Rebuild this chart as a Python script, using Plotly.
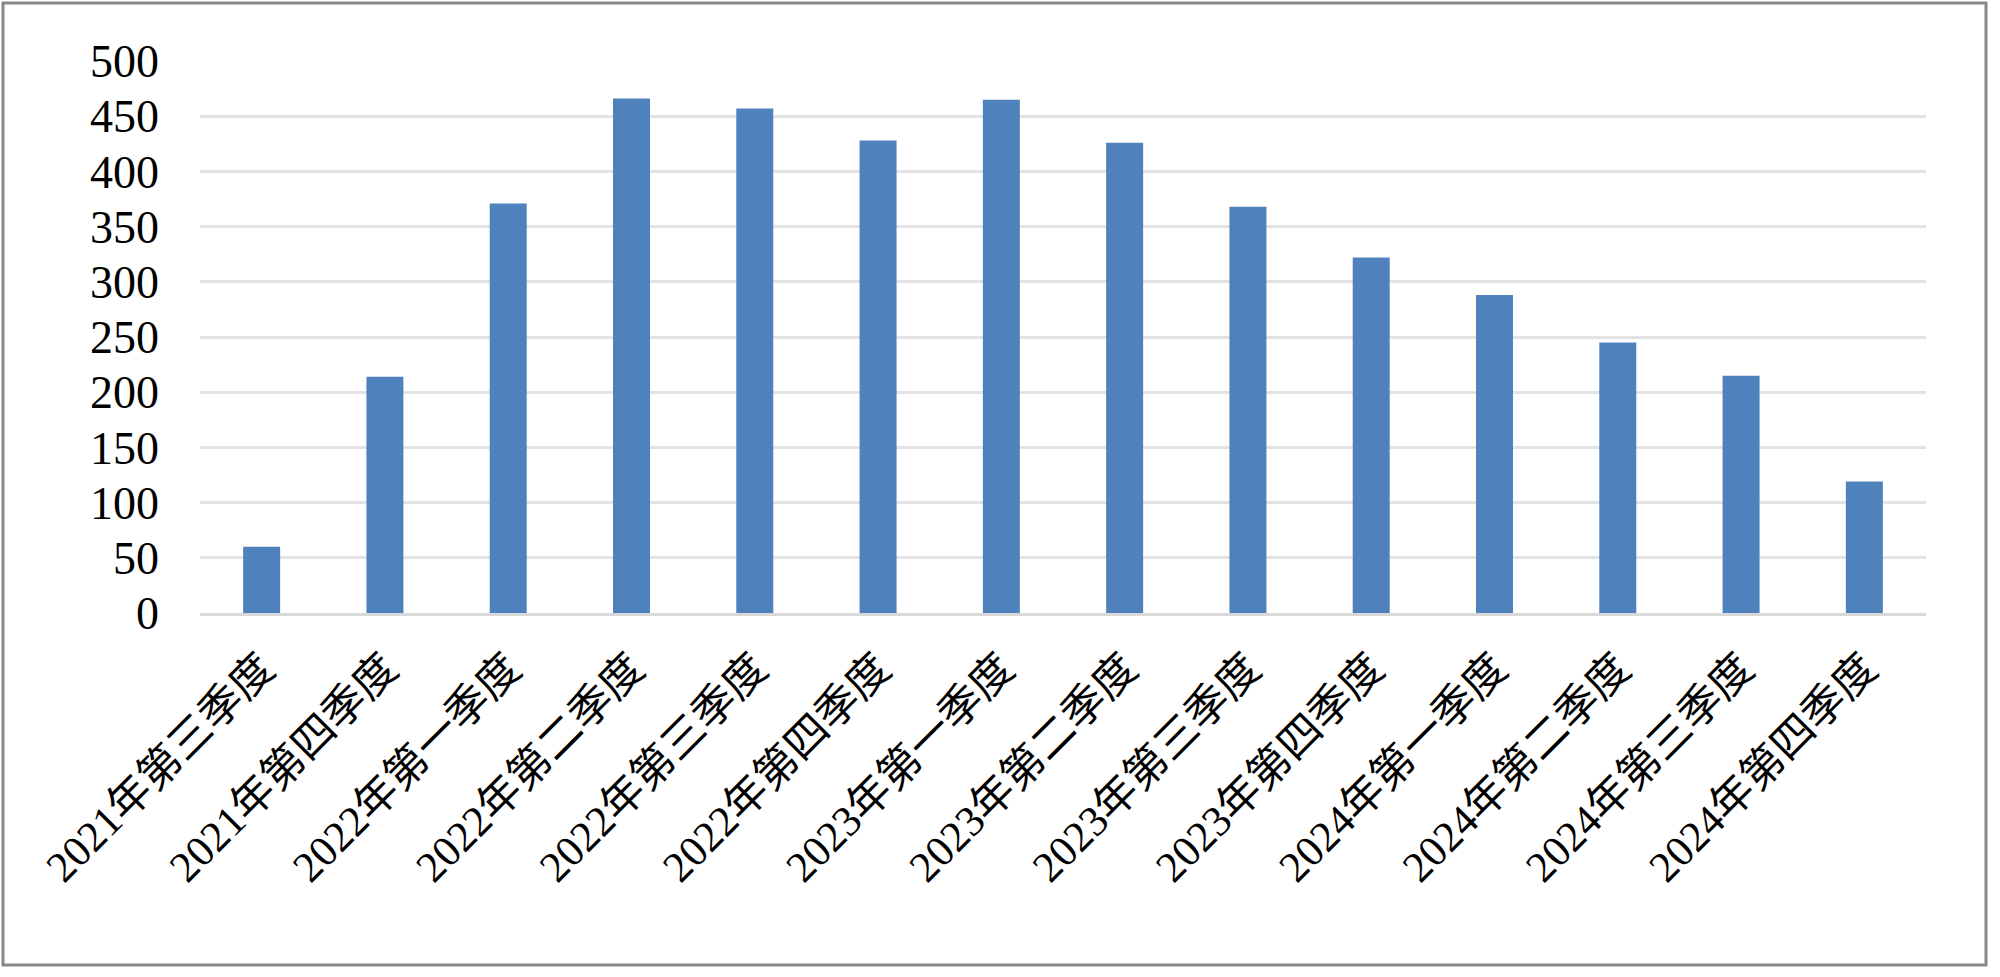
import plotly.graph_objects as go

categories = ["2021年第三季度", "2021年第四季度", "2022年第一季度", "2022年第二季度",
              "2022年第三季度", "2022年第四季度", "2023年第一季度", "2023年第二季度",
              "2023年第三季度", "2023年第四季度", "2024年第一季度", "2024年第二季度",
              "2024年第三季度", "2024年第四季度"]
values = [60, 214, 371, 466, 457, 428, 465, 426, 368, 322, 288, 245, 215, 119]
y_ticks = [0, 50, 100, 150, 200, 250, 300, 350, 400, 450, 500]

W, H = 2000, 977
L, R, T, B = 200, 74, 61, 364
pw, ph = W - L - R, H - T - B

font_family = "Liberation Serif, Times New Roman, Noto Sans CJK SC, serif"

fig = go.Figure(go.Bar(x=categories, y=values, marker=dict(color="#4F81BD", line=dict(width=0)),
                       width=0.3))

fig.update_layout(
    width=W, height=H,
    margin=dict(l=L, r=R, t=T, b=B, pad=0),
    paper_bgcolor="white", plot_bgcolor="white",
    showlegend=False,
    font=dict(family=font_family, size=46, color="black"),
    xaxis=dict(tickangle=-45, showgrid=False, showline=True, linecolor="#d9d9d9", linewidth=3,
               ticks="", tickfont=dict(size=43, family=font_family), ticklabelstandoff=10),
    yaxis=dict(range=[0, 500], tickvals=y_ticks, showgrid=True, gridcolor="#e3e3e3", gridwidth=3,
               zeroline=False, showline=False, ticks="", ticklabelstandoff=40,
               tickfont=dict(size=46, family=font_family)),
    shapes=[dict(type="rect", xref="paper", yref="paper",
                 x0=(3 - L) / pw, x1=(1986 - L) / pw,
                 y0=(H - B - 965) / ph, y1=(H - B - 3) / ph,
                 line=dict(color="#888888", width=3), fillcolor="rgba(0,0,0,0)", layer="below")],
)

fig.write_html("out.html", config={"displayModeBar": False},
               post_script="document.body.style.margin='0';document.body.style.overflow='hidden';")
